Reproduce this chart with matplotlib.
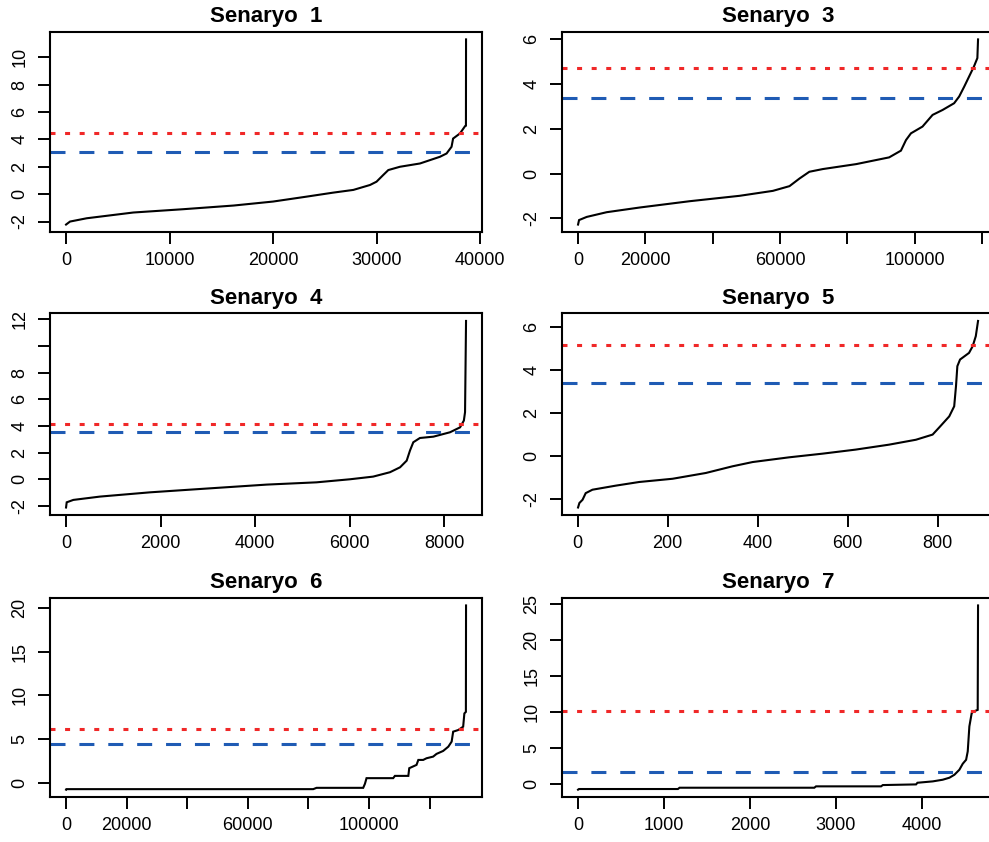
import matplotlib
matplotlib.use('Agg')
import matplotlib.pyplot as plt

plt.rcParams['font.family'] = ['Liberation Sans', 'DejaVu Sans']
plt.rcParams['axes.unicode_minus'] = False

titles = ['Senaryo  1', 'Senaryo  3', 'Senaryo  4',
          'Senaryo  5', 'Senaryo  6', 'Senaryo  7']

# sorted values (index, value)
s1_x = [1, 386, 2000, 6500, 11300, 16200, 20000, 23250, 25800, 27760, 29370,
        30000, 30650, 31140, 32260, 34200, 36130, 36770, 37250, 37400, 38060,
        38550, 38640, 38650]
s1_y = [-2.22, -2.0, -1.76, -1.34, -1.10, -0.83, -0.54, -0.18, 0.11, 0.31, 0.67,
        0.91, 1.40, 1.76, 2.0, 2.24, 2.73, 2.97, 3.46, 4.06, 4.43,
        4.96, 5.0, 11.3]

s3_x = [1, 300, 2570, 8500, 18370, 33190, 48000, 57870, 62800, 65780, 68700,
        72700, 82600, 92400, 95900, 97400, 98870, 102300, 105300, 108270,
        111700, 113200, 114700, 116150, 117600, 118600, 118800]
s3_y = [-2.27, -2.07, -1.93, -1.72, -1.51, -1.23, -0.99, -0.77, -0.56, -0.22, 0.08,
        0.20, 0.42, 0.72, 1.02, 1.49, 1.79, 2.09, 2.61, 2.83,
        3.13, 3.43, 3.87, 4.32, 4.77, 5.14, 5.97]

s4_x = [1, 15, 155, 720, 1780, 2836, 4247, 5300, 6010, 6500, 6857, 7070, 7210,
        7280, 7350, 7490, 7775, 8127, 8340, 8420, 8445, 8466]
s4_y = [-2.12, -1.73, -1.55, -1.30, -0.98, -0.73, -0.40, -0.23, 0.0, 0.20, 0.53,
        0.90, 1.40, 2.16, 2.78, 3.10, 3.20, 3.53, 3.90, 4.41, 5.04, 11.89]

s5_x = [1, 4, 11, 18, 33, 85, 137, 211, 285, 344, 389, 470, 544, 618, 692, 752,
        789, 804, 826, 837, 841, 844, 850, 870, 878, 885, 890]
s5_y = [-2.41, -2.2, -2.05, -1.74, -1.58, -1.39, -1.22, -1.07, -0.80, -0.49,
        -0.29, -0.07, 0.10, 0.29, 0.52, 0.75, 0.99, 1.33, 1.84, 2.31, 3.25,
        4.18, 4.49, 4.80, 5.11, 5.58, 6.29]

s6_x = [1, 100, 81600, 82700, 98100, 98670, 99200, 108000, 108570, 113000,
        113300, 115700, 116300, 117900, 119000, 121200, 122300, 124500, 126200,
        127300, 127800, 129500, 131100, 131500, 132000, 132050]
s6_y = [-0.82, -0.76, -0.76, -0.61, -0.61, -0.15, 0.50, 0.50, 0.76, 0.76,
        1.64, 2.02, 2.59, 2.59, 2.78, 2.97, 3.28, 3.62, 4.11,
        4.69, 5.83, 6.02, 6.40, 7.92, 8.10, 20.3]

s7_x = [1, 12, 1163, 1182, 2750, 2770, 3527, 3547, 3934, 3950, 4128, 4244,
        4322, 4380, 4438, 4477, 4516, 4535, 4554, 4581, 4601, 4651, 4655]
s7_y = [-0.78, -0.69, -0.69, -0.51, -0.51, -0.32, -0.32, -0.14, -0.05, 0.18,
        0.37, 0.60, 0.88, 1.29, 1.99, 2.82, 3.37, 4.53, 8.0, 9.84, 10.07,
        10.30, 24.8]

red_lines = [4.50, 4.71, 4.15, 5.17, 6.14, 10.17]
blue_lines = [3.09, 3.35, 3.55, 3.41, 4.39, 1.67]

x_ticks = [[0, 10000, 20000, 30000, 40000],
           [0, 20000, 40000, 60000, 80000, 100000, 120000],
           [0, 2000, 4000, 6000, 8000],
           [0, 200, 400, 600, 800],
           [0, 20000, 40000, 60000, 80000, 100000, 120000],
           [0, 1000, 2000, 3000, 4000]]
x_labels = [['0', '10000', '20000', '30000', '40000'],
            ['0', '20000', '', '60000', '', '100000', ''],
            ['0', '2000', '4000', '6000', '8000'],
            ['0', '200', '400', '600', '800'],
            ['0', '20000', '', '60000', '', '100000', ''],
            ['0', '1000', '2000', '3000', '4000']]
y_ticks = [[-2, 0, 2, 4, 6, 8, 10],
           [-2, 0, 2, 4, 6],
           [-2, 0, 2, 4, 6, 8, 10, 12],
           [-2, 0, 2, 4, 6],
           [0, 5, 10, 15, 20],
           [0, 5, 10, 15, 20, 25]]
y_labels = [['-2', '0', '2', '4', '6', '8', '10'],
            ['-2', '0', '2', '4', '6'],
            ['-2', '0', '2', '4', '6', '8', '', '12'],
            ['-2', '0', '2', '4', '6'],
            ['0', '5', '10', '15', '20'],
            ['0', '5', '10', '15', '20', '25']]

series = [(s1_x, s1_y), (s3_x, s3_y), (s4_x, s4_y),
          (s5_x, s5_y), (s6_x, s6_y), (s7_x, s7_y)]

fig = plt.figure(figsize=(9.89, 8.42), dpi=100)

lefts = [0.0506, 0.5683]
bottoms = [0.7245, 0.3884, 0.0534]
heights = [0.2375, 0.2393, 0.2363]
width = 0.4368

lw_h = 2.2  # width of the horizontal reference lines, pt
for i, (xs, ys) in enumerate(series):
    r, c = divmod(i, 2)
    ax = fig.add_axes([lefts[c], bottoms[r], width, heights[r]])
    ax.plot(xs, ys, color='black', lw=1.5, solid_joinstyle='miter')
    ax.axhline(red_lines[i], color='#f02828', lw=lw_h,
               linestyle=(0, (3.6 / lw_h, 6.9 / lw_h)))
    ax.axhline(blue_lines[i], color='#1f5bb4', lw=lw_h,
               linestyle=(0, (10.8 / lw_h, 10.0 / lw_h)))
    ax.margins(x=0.04, y=0.04)
    ax.set_xticks(x_ticks[i])
    ax.set_xticklabels(x_labels[i])
    ax.set_yticks(y_ticks[i])
    ax.set_yticklabels(y_labels[i], rotation=90, va='center')
    ax.tick_params(axis='both', direction='out', length=8.6, width=1.4,
                   labelsize=13, colors='black')
    ax.tick_params(axis='x', pad=6)
    ax.tick_params(axis='y', pad=7)
    for sp in ax.spines.values():
        sp.set_linewidth(1.5)
    ax.set_title(titles[i], fontsize=16, fontweight='bold', pad=7)

fig.savefig('out.png', dpi=100)
